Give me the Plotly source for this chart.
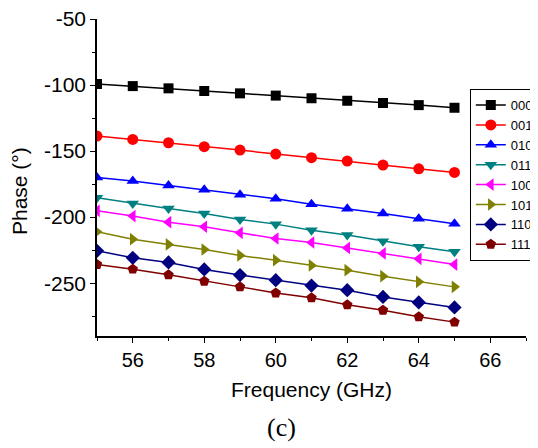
import plotly.graph_objects as go

freq = [55, 56, 57, 58, 59, 60, 61, 62, 63, 64, 65]
s000 = [-99.2, -100.8, -102.5, -104.5, -106.3, -108.0, -110.0, -111.9, -113.6, -115.2, -117.2]
s001 = [-138.6, -141.2, -143.7, -146.7, -149.2, -152.3, -155.0, -157.6, -160.6, -163.4, -166.2]
s010 = [-170.0, -172.7, -176.0, -179.3, -183.1, -186.1, -190.2, -193.7, -197.2, -201.3, -205.1]
s011 = [-185.4, -189.6, -193.4, -197.2, -201.8, -205.3, -209.9, -213.6, -218.2, -222.5, -226.3]
s100 = [-195.2, -199.2, -203.8, -207.3, -211.9, -216.2, -219.2, -223.3, -227.5, -231.6, -235.9]
s101 = [-211.1, -216.7, -220.7, -224.5, -229.0, -232.6, -236.6, -240.2, -244.7, -249.0, -252.8]
s110 = [-225.5, -230.8, -234.3, -239.6, -243.9, -247.7, -251.8, -255.3, -260.4, -264.6, -268.4]
s111 = [-235.9, -239.4, -243.7, -248.5, -252.8, -257.4, -261.1, -266.4, -270.5, -275.5, -279.5]

names = ["000", "001", "010", "011", "100", "101", "110", "111"]
series = [s000, s001, s010, s011, s100, s101, s110, s111]
colors = ["#000000", "#FF0000", "#0000FF", "#008080", "#FF00FF", "#808000", "#000080", "#800000"]
symbols = ["square", "circle", "triangle-up", "triangle-down", "triangle-left",
           "triangle-right", "diamond", "pentagon"]
sizes = [10, 11, 11, 11, 11, 11, 11, 11]

x_ticks = [56, 58, 60, 62, 64, 66]
y_ticks = [-50, -100, -150, -200, -250]
y_tick_labels = ["-50", "-100", "-150", "-200", "-250"]

fig = go.Figure()
for n, s, c, m, sz in zip(names, series, colors, symbols, sizes):
    fig.add_trace(go.Scatter(x=freq, y=s, name=n, mode="lines+markers",
                             line=dict(color=c, width=1.5),
                             marker=dict(symbol=m, color=c, size=sz)))

axis_font = dict(family="Liberation Sans, Arial", size=20, color="#000000")
ytick_font = dict(family="Liberation Sans, Arial", size=21, color="#000000")
title_font = dict(family="Liberation Sans, Arial", size=21, color="#000000")
fig.update_layout(
    width=530, height=440,
    margin=dict(l=89, r=12, t=11, b=112, autoexpand=False),
    paper_bgcolor="white", plot_bgcolor="white",
    font=axis_font,
    showlegend=True,
    legend=dict(x=0.869, y=0.779, xanchor="left", yanchor="top",
                bordercolor="#000000", borderwidth=1, bgcolor="white",
                font=dict(family="Liberation Sans, Arial", size=13, color="#000000"),
                tracegroupgap=0, itemwidth=30),
    xaxis=dict(range=[55, 67], tickvals=x_ticks, automargin=False,
               showgrid=False, zeroline=False, showline=True, linecolor="#000000",
               linewidth=1.5, ticks="outside", ticklen=5, tickwidth=1.2, tickcolor="#000000",
               minor=dict(tickvals=[55, 57, 59, 61, 63, 65, 67], ticks="outside", ticklen=3,
                          tickcolor="#000000", tickwidth=1),
               tickfont=axis_font, ticklabeloverflow="allow",
               title=dict(text="Frequency (GHz)", font=title_font, standoff=13)),
    yaxis=dict(range=[-290, -50], tickvals=y_ticks, ticktext=y_tick_labels, automargin=False,
               showgrid=False, zeroline=False, showline=True, linecolor="#000000",
               linewidth=1.5, ticks="outside", ticklen=5, tickwidth=1.2, tickcolor="#000000",
               minor=dict(tickvals=[-75, -125, -175, -225, -275], ticks="outside", ticklen=3,
                          tickcolor="#000000", tickwidth=1),
               tickfont=ytick_font, ticklabeloverflow="allow"),
    annotations=[
        dict(text="Phase (°)", xref="paper", yref="paper", x=-0.182, y=0.457,
             xanchor="center", yanchor="middle", textangle=-90, showarrow=False,
             font=title_font),
        dict(text="(c)", xref="paper", yref="paper", x=0.431, y=-0.29,
             xanchor="center", yanchor="middle", showarrow=False,
             font=dict(family="Liberation Serif, DejaVu Serif", size=26, color="#000000")),
    ],
)

fig.write_html("out.html")
